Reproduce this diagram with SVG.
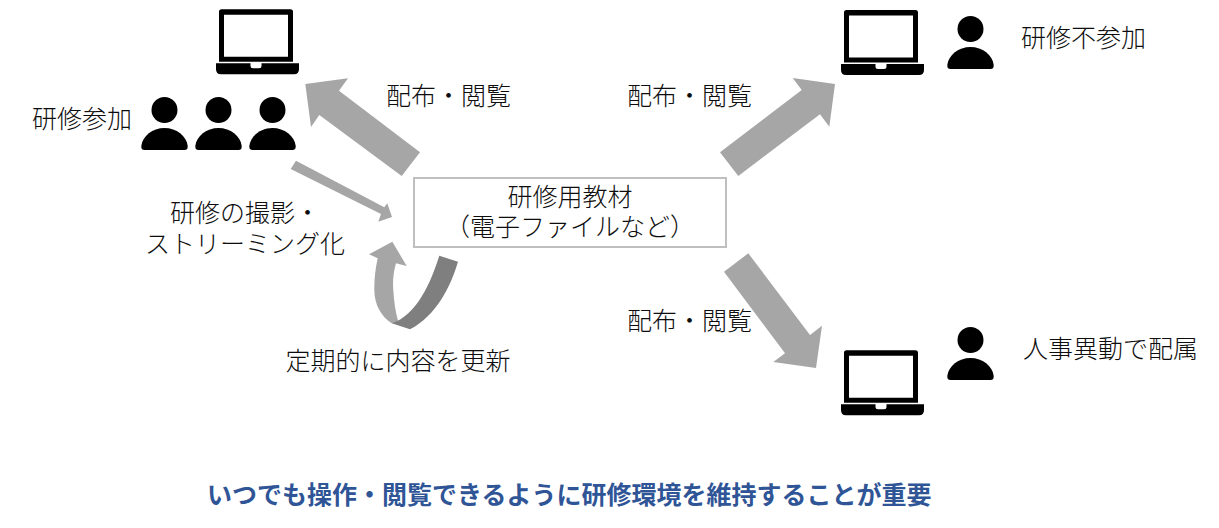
<svg xmlns="http://www.w3.org/2000/svg" xmlns:xlink="http://www.w3.org/1999/xlink" width="1219" height="528" viewBox="0 0 1219 528">
<style>
text{font-family:"Noto Sans CJK JP","Noto Sans",sans-serif;font-size:25px;fill:#0d0d0d;font-weight:300}
.m{text-anchor:middle}
.t{font-weight:700;fill:#2f5597}
.a{fill:#a6a6a6}
.d{fill:#7f7f7f}
</style>
<defs>
<g id="person"><circle cx="0" cy="13" r="13"/><path d="M-23.200 49C-22 39 -12 31 0 31C12 31 22 39 23.200 49C23.400 52 22 53 20 53H-20C-22 53 -23.400 52 -23.200 49Z"/></g>
<g id="laptop"><path fill-rule="evenodd" d="M5.500 0H74.500Q77 0 77 2.500V52.500H3V2.500Q3 0 5.500 0ZM8 5.500V47.500H72V5.500Z"/><path d="M0 54H34.500V56.500Q34.500 59 37 59H43Q45.500 59 45.500 56.500V54H83V60Q83 65 78 65H5Q0 65 0 60Z"/></g>
</defs>
<rect width="1219" height="528" fill="#fff"/>
<g id="connectors">
<polygon class="a" points="305.300,84 348,78.300 339,90.700 420,152.300 401.700,176 319.300,115 311,127"/>
<polygon class="a" points="835,84 792.700,78 801.700,90 720,152.300 738.300,176 820,114.300 829.300,126.700"/>
<polygon class="a" points="748.300,253.300 724,271.700 785,353.300 773.300,362 816,368 822,325.700 810,335"/>
<polygon class="a" points="296,160.700 290.700,169 381,214 378.300,221.700 392,217 387.300,203.300 384.300,207.300"/>
<path class="a" d="M391.700 323.300C381 316 374.500 305 374.300 290C374.200 279 375.500 268 377.700 258.300L369 254.300L392.300 241.700L406.700 266L396 263.300C393.500 272 392.500 281 393.300 290C394 302 395.500 312 398.300 321.700Z"/>
<path class="d" d="M439.300 255.700L458 261.700C451 286 436 316 410 329.300L391.700 323.300C417 315 431 282 439.300 255.700Z"/>
</g>
<g id="n-laptop-1"><use xlink:href="#laptop" href="#laptop" transform="translate(216 9.300)"/></g>
<g id="n-laptop-2"><use xlink:href="#laptop" href="#laptop" transform="translate(841 10)"/></g>
<g id="n-laptop-3"><use xlink:href="#laptop" href="#laptop" transform="translate(841 350.300)"/></g>
<g id="n-attendees">
<text x="32" y="128">研修参加</text>
<use xlink:href="#person" href="#person" transform="translate(164.500 97)"/>
<use xlink:href="#person" href="#person" transform="translate(218.500 97)"/>
<use xlink:href="#person" href="#person" transform="translate(272.500 97)"/>
</g>
<g id="n-absent"><use xlink:href="#person" href="#person" transform="translate(970.500 16)"/><text x="1021" y="47">研修不参加</text></g>
<g id="n-transfer"><use xlink:href="#person" href="#person" transform="translate(970.500 327)"/><text x="1023" y="358">人事異動で配属</text></g>
<g id="n-material"><rect x="414" y="178" width="312" height="69" fill="#fff" stroke="#bfbfbf" stroke-width="2"/>
<text class="m" x="570" y="206">研修用教材</text><text class="m" x="570" y="236">（電子ファイルなど）</text></g>
<g id="labels">
<text x="386" y="105">配布・閲覧</text>
<text x="627" y="105">配布・閲覧</text>
<text x="627" y="330">配布・閲覧</text>
<text class="m" x="245" y="222">研修の撮影・</text>
<text class="m" x="245" y="253">ストリーミング化</text>
<text class="m" x="398" y="370">定期的に内容を更新</text>
<text class="t" x="207" y="504">いつでも操作・閲覧できるように研修環境を維持することが重要</text>
</g>
</svg>
